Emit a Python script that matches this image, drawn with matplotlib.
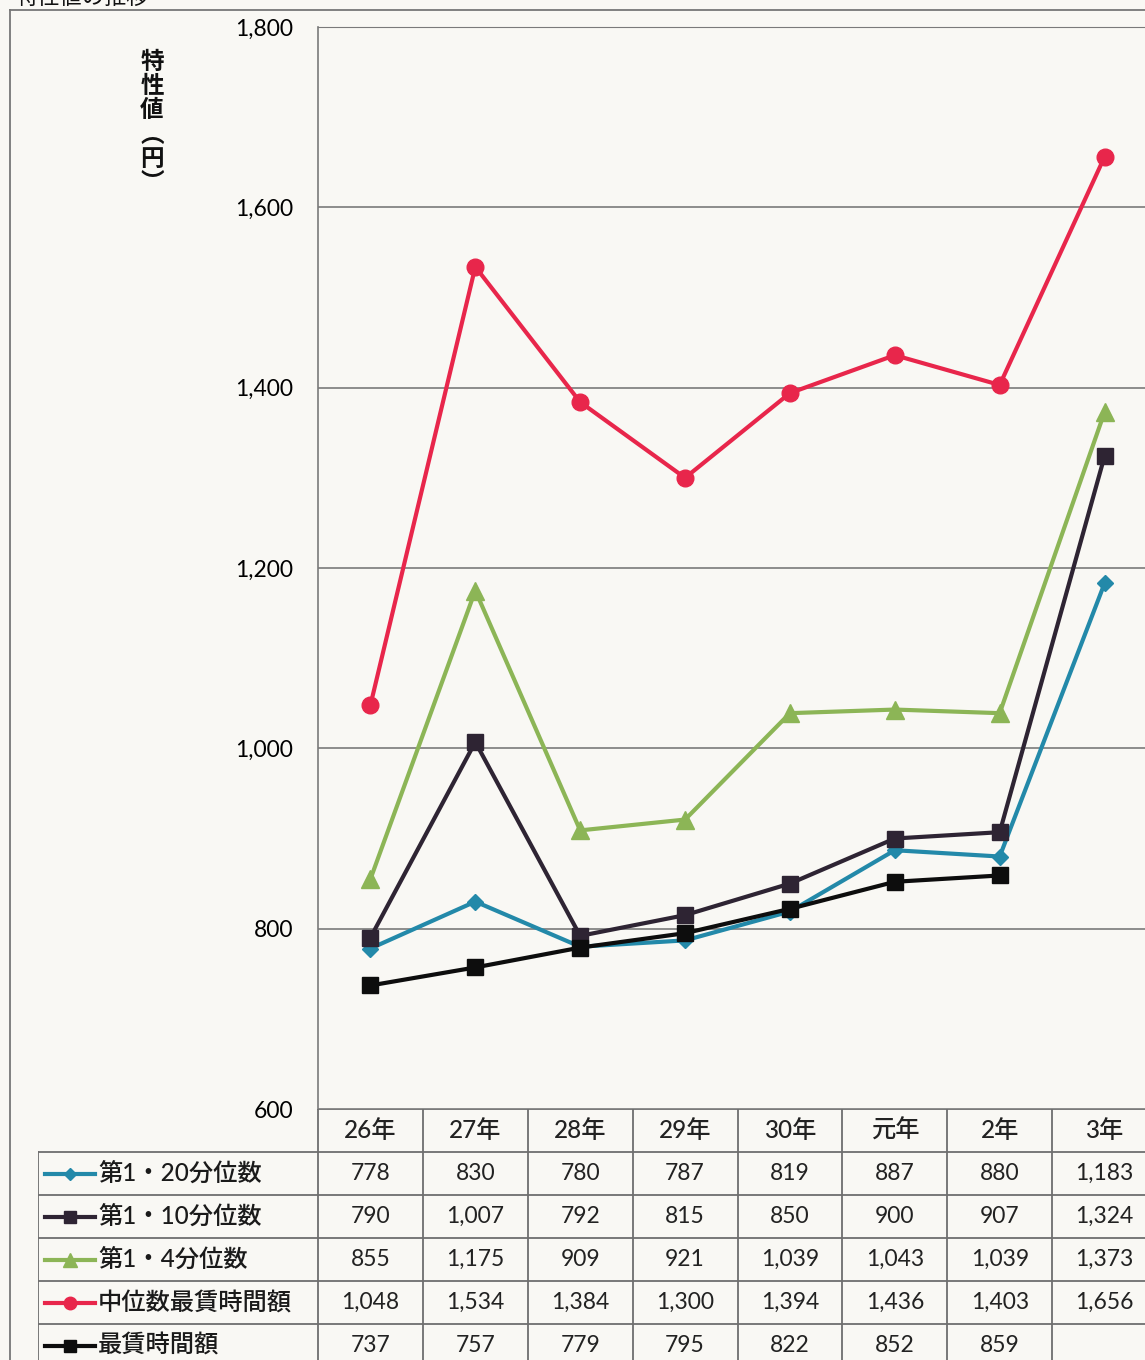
import numpy as np
import matplotlib
matplotlib.use("Agg")
import matplotlib.pyplot as plt
from matplotlib.lines import Line2D

plt.rcParams['font.family'] = ['Lato', 'Noto Sans CJK JP', 'DejaVu Sans']

# データ
years = ['26年', '27年', '28年', '29年', '30年', '元年', '2年', '3年']
names = ['第1・20分位数', '第1・10分位数', '第1・4分位数', '中位数最賃時間額', '最賃時間額']
q20 = [778, 830, 780, 787, 819, 887, 880, 1183]
q10 = [790, 1007, 792, 815, 850, 900, 907, 1324]
q4 = [855, 1175, 909, 921, 1039, 1043, 1039, 1373]
median = [1048, 1534, 1384, 1300, 1394, 1436, 1403, 1656]
minwage = [737, 757, 779, 795, 822, 852, 859, np.nan]
yticks = [600, 800, 1000, 1200, 1400, 1600, 1800]

series = [q20, q10, q4, median, minwage]
colors = ['#2389a9', '#2e2433', '#8cb556', '#e8264b', '#0d0d0d']
markers = ['D', 's', '^', 'o', 's']
msizes = [8, 12, 13, 12, 12]

W, H = 1145, 1360
bg = '#f9f8f4'
grid_c = '#7a7a7a'

fig = plt.figure(figsize=(W / 100, H / 100), dpi=100, facecolor=bg)

# グラフ本体
x_left, x_right = 318, 1157
y_top, y_bot = 27, 1109
ax = fig.add_axes([x_left / W, (H - y_bot) / H, (x_right - x_left) / W, (y_bot - y_top) / H])
ax.set_facecolor(bg)
x = np.arange(len(years))
for vals, c, m, ms in zip(series, colors, markers, msizes):
    ax.plot(x, vals, color=c, lw=3, marker=m, markersize=ms, zorder=3)
ax.set_xlim(-0.5, len(years) - 0.5)
ax.set_ylim(600, 1800)
ax.set_yticks(yticks)
ax.set_yticklabels([f'{v:,}' for v in yticks], fontsize=16.5)
ax.tick_params(axis='y', length=0, pad=18)
ax.set_xticks([])
ax.grid(axis='y', color=grid_c, lw=1.2)
for s in ['right', 'bottom']:
    ax.spines[s].set_visible(False)
ax.spines['left'].set_color(grid_c)
ax.spines['top'].set_color(grid_c)
ax.spines['left'].set_linewidth(1.2)

# 表
cw = (x_right - x_left) / len(years)
tab_left = 38
lab_units = (x_left - tab_left) / cw
tab_bot = y_bot + 6 * 43
axt = fig.add_axes([tab_left / W, (H - tab_bot) / H, (x_right - tab_left) / W, (tab_bot - y_bot) / H])
axt.set_xlim(-0.5 - lab_units, len(years) - 0.5)
axt.set_ylim(6, 0)
axt.axis('off')
lc = '#6e6e6e'
x0 = -0.5 - lab_units
axt.plot([-0.5, len(years) - 0.5], [0, 0], color=lc, lw=1.3)
for r in range(1, 7):
    axt.plot([x0, len(years) - 0.5], [r, r], color=lc, lw=1.3)
for k in range(len(years) + 1):
    axt.plot([k - 0.5, k - 0.5], [0, 6], color=lc, lw=1.3)
axt.plot([x0, x0], [1, 6], color=lc, lw=1.3)

for i, y in enumerate(years):
    axt.text(i, 0.5, y, ha='center', va='center', fontsize=17.5, fontweight='medium', color='#222222')

def px(p):
    return -0.5 + (p - x_left) / cw

for r, (nm, vals, c, m, ms) in enumerate(zip(names, series, colors, markers, msizes)):
    row = r + 1.5
    axt.plot([px(45), px(95)], [row, row], color=c, lw=3, zorder=3)
    axt.plot([px(70)], [row], color=c, marker=m, markersize=ms * 0.75, zorder=4)
    axt.text(px(98), row, nm, ha='left', va='center', fontsize=17.5, fontweight='medium', color='#1a1a1a')
    for i, v in enumerate(vals):
        if not np.isnan(v):
            axt.text(i, row, f'{int(v):,}', ha='center', va='center', fontsize=16.5, color='#222222')

# 縦軸ラベル
fig.text(152 / W, 1 - 122 / H, '特\n性\n値\n︵\n円\n︶', ha='center', va='center',
         fontsize=17, fontweight='bold', linespacing=1.06, color='#111111')

# タイトル(上端で切れている)
fig.text(15 / W, 1 - 8 / H, '特性値の推移', ha='left', va='bottom', fontsize=16, color='#111111')

# 外枠
fig.add_artist(Line2D([10 / W, 10 / W], [0, 1 - 10 / H], color='#777777', lw=1.3))
fig.add_artist(Line2D([10 / W, 1], [1 - 10 / H, 1 - 10 / H], color='#777777', lw=1.3))

fig.savefig('out.png', dpi=100, facecolor=bg)
